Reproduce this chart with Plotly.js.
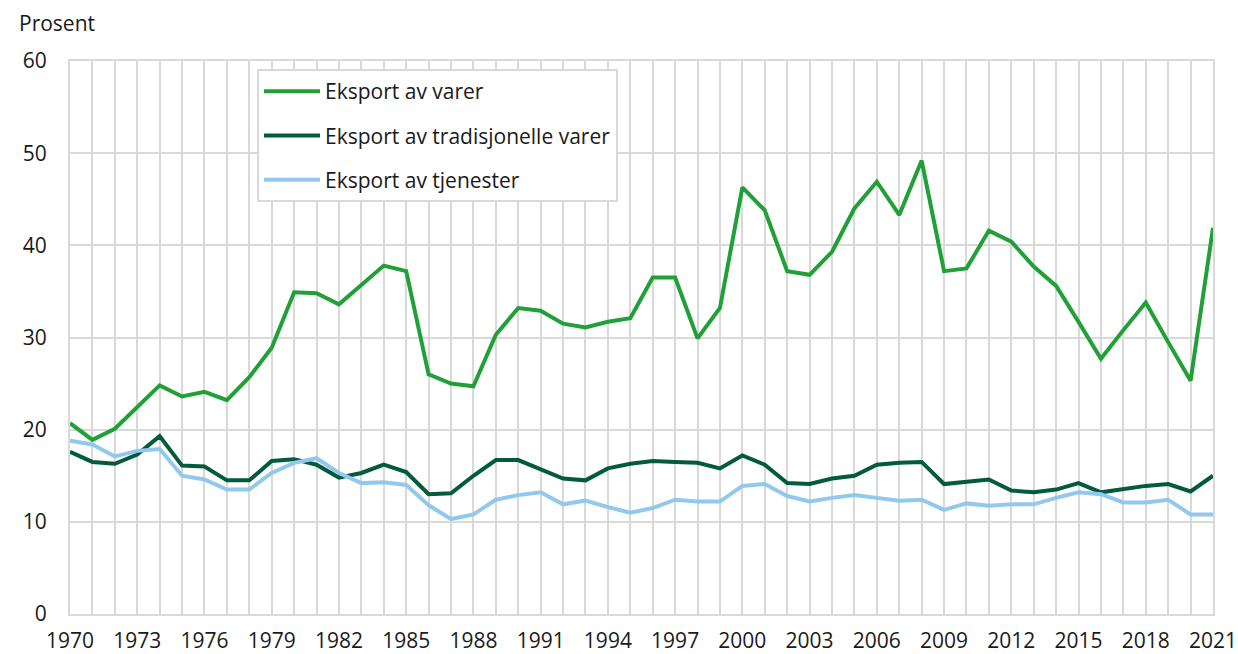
<!DOCTYPE html>
<html>
<head>
<meta charset="utf-8">
<script src="https://cdn.plot.ly/plotly-3.0.1.min.js"></script>
<style>
  html, body { margin: 0; padding: 0; background: #ffffff; }
  #chart { width: 1238px; height: 654px; }
</style>
</head>
<body>
<div id="chart"></div>
<script>
const years = [1970,1971,1972,1973,1974,1975,1976,1977,1978,1979,
  1980,1981,1982,1983,1984,1985,1986,1987,1988,1989,
  1990,1991,1992,1993,1994,1995,1996,1997,1998,1999,
  2000,2001,2002,2003,2004,2005,2006,2007,2008,2009,
  2010,2011,2012,2013,2014,2015,2016,2017,2018,2019,
  2020,2021];

const eksportVarer = [20.7,18.9,20.1,22.5,24.8,23.6,24.1,23.2,25.7,28.9,
  34.9,34.8,33.6,35.7,37.8,37.2,26.0,25.0,24.7,30.3,
  33.2,32.9,31.5,31.1,31.7,32.1,36.5,36.5,29.9,33.2,
  46.3,43.8,37.2,36.8,39.3,44.0,46.9,43.3,49.2,37.2,
  37.5,41.6,40.4,37.7,35.6,31.7,27.7,30.8,33.8,29.5,
  25.3,41.9];

const eksportTradisjonelle = [17.6,16.5,16.3,17.3,19.3,16.1,16.0,14.5,14.5,16.6,
  16.8,16.2,14.8,15.3,16.2,15.4,13.0,13.1,15.0,16.7,
  16.7,15.7,14.7,14.5,15.8,16.3,16.6,16.5,16.4,15.8,
  17.2,16.2,14.2,14.1,14.7,15.0,16.2,16.4,16.5,14.1,
  14.4,14.6,13.4,13.2,13.5,14.2,13.2,13.6,13.9,14.1,
  13.3,15.0];

const eksportTjenester = [18.8,18.4,17.1,17.7,17.9,15.0,14.6,13.5,13.5,15.3,
  16.4,16.9,15.3,14.2,14.3,14.0,11.8,10.3,10.8,12.4,
  12.9,13.2,11.9,12.3,11.6,11.0,11.5,12.4,12.2,12.2,
  13.9,14.1,12.8,12.2,12.6,12.9,12.6,12.3,12.4,11.3,
  12.0,11.75,11.9,11.9,12.6,13.2,13.0,12.1,12.1,12.4,
  10.8,10.8];

const seriesNames = ["Eksport av varer", "Eksport av tradisjonelle varer", "Eksport av tjenester"];
const yTicks = [0,10,20,30,40,50,60];
const xTicks = [1970,1973,1976,1979,1982,1985,1988,1991,1994,1997,2000,2003,2006,2009,2012,2015,2018,2021];

const FONT = "'Open Sans', 'Noto Sans', sans-serif";
const FS = 21;
const gridColor = "#d9d9d9";

const traces = [
  {x: years, y: eksportVarer, name: seriesNames[0], color: "#21a038", lg: "a"},
  {x: years, y: eksportTradisjonelle, name: seriesNames[1], color: "#035a3d", lg: "b"},
  {x: years, y: eksportTjenester, name: seriesNames[2], color: "#93c8ee", lg: "c"}
].map(s => ({
  type: "scatter", mode: "lines", x: s.x, y: s.y, name: s.name,
  legendgroup: s.lg,
  line: {color: s.color, width: 4, shape: "linear"},
  hoverinfo: "x+y+name"
}));

const layout = {
  width: 1238, height: 654,
  margin: {l: 70, r: 25, t: 61, b: 40, pad: 0},
  paper_bgcolor: "#ffffff", plot_bgcolor: "#ffffff",
  font: {family: FONT, size: FS, color: "#1a1a1a"},
  showlegend: true,
  legend: {
    x: 0.1636, y: 0.9855, xanchor: "left", yanchor: "top",
    bgcolor: "#ffffff", bordercolor: gridColor, borderwidth: 2,
    font: {family: FONT, size: FS, color: "#1a1a1a"},
    itemwidth: 56, tracegroupgap: 14, traceorder: "grouped"
  },
  xaxis: {
    range: [1970, 2021], tickvals: xTicks, ticktext: xTicks.map(String),
    showgrid: true, gridcolor: gridColor, gridwidth: 2,
    minor: {dtick: 1, tick0: 1970, showgrid: true, gridcolor: gridColor, gridwidth: 2},
    showline: true, linecolor: gridColor, linewidth: 2, mirror: true,
    zeroline: false, ticks: "", ticklabelstandoff: 7,
    tickfont: {family: FONT, size: FS, color: "#1a1a1a"}, fixedrange: true
  },
  yaxis: {
    range: [0, 60], tickvals: yTicks, ticktext: yTicks.map(String),
    showgrid: true, gridcolor: gridColor, gridwidth: 2,
    showline: true, linecolor: gridColor, linewidth: 2, mirror: true,
    zeroline: false, ticks: "", ticklabelstandoff: 17,
    tickfont: {family: FONT, size: FS, color: "#1a1a1a"}, fixedrange: true
  },
  annotations: [{
    text: "Prosent", xref: "paper", yref: "paper",
    x: -0.0464, y: 1.0687, xanchor: "left", yanchor: "middle",
    showarrow: false, font: {family: FONT, size: FS, color: "#1a1a1a"}
  }]
};

Plotly.newPlot("chart", traces, layout, {displayModeBar: false, responsive: false});
</script>
</body>
</html>
